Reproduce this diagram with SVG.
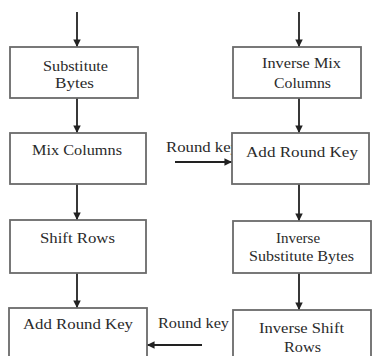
<svg xmlns="http://www.w3.org/2000/svg" width="372" height="356" viewBox="0 0 372 356">
<style>
.box{fill:#fff;stroke:#6a6a6a;stroke-width:1.8}
.t{font-family:'Liberation Serif','DejaVu Serif','Times New Roman',serif;font-size:15px;fill:#2a2a2a}
.c{stroke:#222;stroke-width:1.8;fill:none}
</style>
<defs>
<marker id="ah" viewBox="0 0 10 10" refX="10" refY="5" markerWidth="4.2" markerHeight="4.2" orient="auto" markerUnits="strokeWidth">
<path d="M0,0 L10,5 L0,10 z" fill="#222"/>
</marker>
</defs>
<rect width="372" height="356" fill="#fff"/>
<g id="connectors">
<line class="c" x1="77" y1="12" x2="77" y2="47" marker-end="url(#ah)"/>
<line class="c" x1="77" y1="98" x2="77" y2="133" marker-end="url(#ah)"/>
<line class="c" x1="77" y1="184" x2="77" y2="220" marker-end="url(#ah)"/>
<line class="c" x1="77" y1="273" x2="77" y2="308" marker-end="url(#ah)"/>
<line class="c" x1="299" y1="12" x2="299" y2="47" marker-end="url(#ah)"/>
<line class="c" x1="299" y1="98" x2="299" y2="133" marker-end="url(#ah)"/>
<line class="c" x1="299" y1="184" x2="299" y2="221" marker-end="url(#ah)"/>
<line class="c" x1="299" y1="273" x2="299" y2="310" marker-end="url(#ah)"/>
<line class="c" x1="175" y1="162" x2="232" y2="162" marker-end="url(#ah)"/>
<text class="t" x="166" y="152" textLength="73" lengthAdjust="spacingAndGlyphs">Round key</text>
<line class="c" x1="202" y1="345" x2="147" y2="345" marker-end="url(#ah)"/>
<text class="t" x="158" y="328" textLength="71" lengthAdjust="spacingAndGlyphs">Round key</text>
</g>
<g id="sub-bytes">
<rect class="box" x="10" y="47" width="128" height="51"/>
<text class="t" x="43" y="71" textLength="65" lengthAdjust="spacingAndGlyphs">Substitute</text>
<text class="t" x="55" y="88" textLength="39" lengthAdjust="spacingAndGlyphs">Bytes</text>
</g>
<g id="mix-columns">
<rect class="box" x="10" y="133" width="136" height="51"/>
<text class="t" x="32" y="155" textLength="90" lengthAdjust="spacingAndGlyphs">Mix Columns</text>
</g>
<g id="shift-rows">
<rect class="box" x="10" y="220" width="136" height="53"/>
<text class="t" x="40" y="243" textLength="75" lengthAdjust="spacingAndGlyphs">Shift Rows</text>
</g>
<g id="add-round-key-left">
<rect class="box" x="9" y="308" width="138" height="60"/>
<text class="t" x="23" y="329" textLength="110" lengthAdjust="spacingAndGlyphs">Add Round Key</text>
</g>
<g id="inv-mix-columns">
<rect class="box" x="233" y="47" width="128" height="51"/>
<text class="t" x="262" y="68" textLength="79" lengthAdjust="spacingAndGlyphs">Inverse Mix</text>
<text class="t" x="274" y="88" textLength="57" lengthAdjust="spacingAndGlyphs">Columns</text>
</g>
<g id="add-round-key-right">
<rect class="box" x="232" y="133" width="137" height="51"/>
<text class="t" x="246" y="157" textLength="112" lengthAdjust="spacingAndGlyphs">Add Round Key</text>
</g>
<g id="inv-sub-bytes">
<rect class="box" x="233" y="221" width="138" height="52"/>
<text class="t" x="298" y="243" text-anchor="middle">Inverse</text>
<text class="t" x="249" y="261" textLength="105" lengthAdjust="spacingAndGlyphs">Substitute Bytes</text>
</g>
<g id="inv-shift-rows">
<rect class="box" x="233" y="310" width="138" height="60"/>
<text class="t" x="259" y="333" textLength="85" lengthAdjust="spacingAndGlyphs">Inverse Shift</text>
<text class="t" x="284" y="352" textLength="37" lengthAdjust="spacingAndGlyphs">Rows</text>
</g>
</svg>
